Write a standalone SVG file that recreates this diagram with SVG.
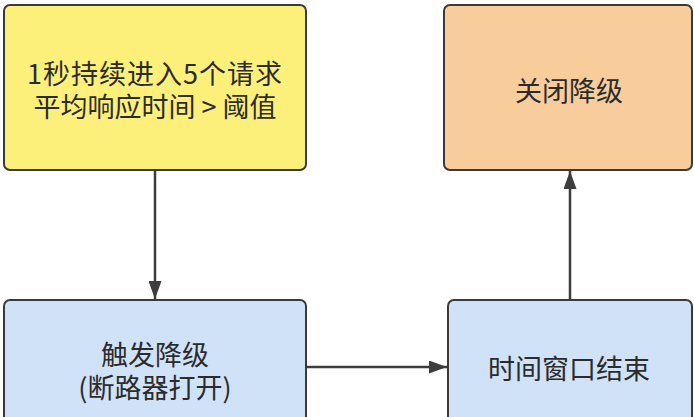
<svg xmlns="http://www.w3.org/2000/svg" width="694" height="417" viewBox="0 0 694 417">
<style>
.box{stroke:#3a3a3a;stroke-width:2}
.t{font-family:"Noto Sans CJK SC","Noto Sans",sans-serif;font-size:27px;fill:#2b2b2b;text-anchor:middle;dominant-baseline:central}
.c{stroke:#3d3d3d;stroke-width:2.5;fill:none}
</style>
<defs>
<marker id="ah" viewBox="0 0 18 13" refX="18" refY="6.5" markerWidth="18" markerHeight="13" markerUnits="userSpaceOnUse" orient="auto">
<path d="M0,0 L18,6.5 L0,13 z" fill="#3d3d3d"/>
</marker>
</defs>
<rect width="694" height="417" fill="#ffffff"/>
<g id="connectors">
<path class="c" d="M155,170 L155,299" marker-end="url(#ah)"/>
<path class="c" d="M307,367 L447,367" marker-end="url(#ah)"/>
<path class="c" d="M570,300 L570,171" marker-end="url(#ah)"/>
</g>
<g id="n1">
<rect class="box" x="4" y="5" width="302" height="165" rx="6" fill="#fdf07a"/>
<text class="t" x="155" y="72"><tspan x="155" y="72" style="letter-spacing:1px">1秒持续进入5个请求</tspan><tspan x="155" y="105">平均响应时间 &gt; 阈值</tspan></text>
</g>
<g id="n2">
<rect class="box" x="444" y="5" width="248" height="165" rx="6" fill="#f9cc9c"/>
<text class="t" x="569" y="89">关闭降级</text>
</g>
<g id="n3">
<rect class="box" x="4" y="300" width="302" height="130" rx="6" fill="#cfe2f8"/>
<text class="t" x="155" y="353"><tspan x="155" y="353">触发降级</tspan><tspan x="155" y="386">(断路器打开)</tspan></text>
</g>
<g id="n4">
<rect class="box" x="448" y="300" width="244" height="130" rx="6" fill="#cfe2f8"/>
<text class="t" x="569" y="367">时间窗口结束</text>
</g>
</svg>
